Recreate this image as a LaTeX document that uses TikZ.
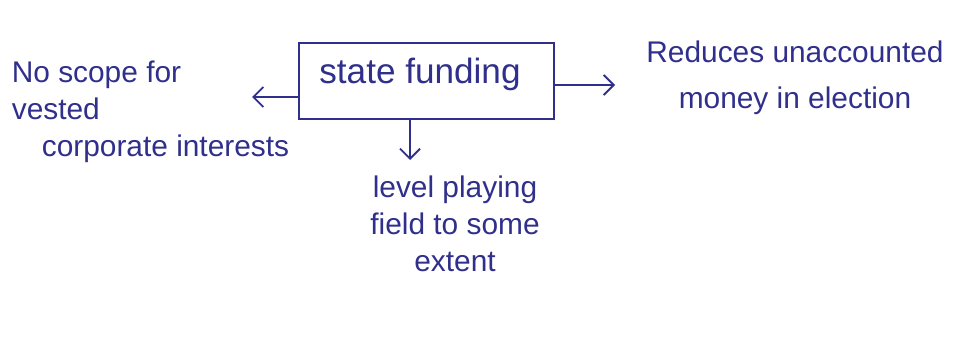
\documentclass[tikz,border=0pt]{standalone}
\usepackage{fontspec}
\setmainfont{Liberation Sans}
\usetikzlibrary{arrows.meta,positioning}
\usepackage{xcolor}
\definecolor{tinta}{RGB}{48,48,140}

\begin{document}
\begin{tikzpicture}[x=0.02cm,y=-0.02cm, line width=1.1pt, draw=tinta, text=tinta,
  font=\fontsize{17}{21}\selectfont]
\useasboundingbox (0,0) rectangle (978,341);
\node[rectangle, draw=tinta, minimum width=255*0.02cm, minimum height=76*0.02cm,
      anchor=north west] (financiacion) at (298,42) {};
\node[font=\fontsize{20}{24}\selectfont] (titulo) at (420,74) {state funding};
\node[align=left, anchor=west] (izq) at (5,112) {No scope for\\vested\\\hspace{0.6cm}corporate interests};
\node[align=center] (der) at (795,78) {Reduces unaccounted\\[5pt]money in election};
\node[align=center] (abajo) at (455,224) {level playing\\field to some\\extent};
\coordinate (puntaizq) at (252,97);
\coordinate (puntader) at (615,85);
\coordinate (puntaabajo) at (410,160);
\draw[-{Straight Barb[length=2mm]}] (financiacion.west |- puntaizq) -- (puntaizq);
\draw[-{Straight Barb[length=2mm]}] (financiacion.east |- puntader) -- (puntader);
\draw[-{Straight Barb[length=2mm]}] (financiacion.south -| puntaabajo) -- (puntaabajo);
\end{tikzpicture}
\end{document}
